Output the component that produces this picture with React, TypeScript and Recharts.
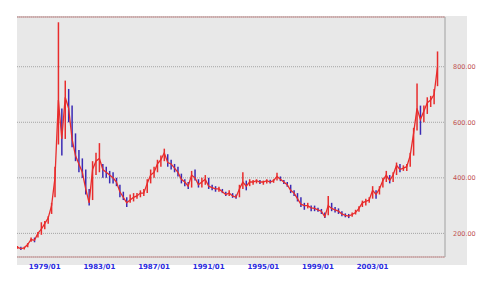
import {
  ComposedChart,
  Line,
  Bar,
  Cell,
  XAxis,
  YAxis,
  CartesianGrid,
  ReferenceLine,
} from "recharts";

const YEARS = [
  1977, 1978, 1979, 1980, 1981, 1982, 1983, 1984, 1985, 1986, 1987, 1988, 1989, 1990, 1991, 1992,
  1993, 1994, 1995, 1996, 1997, 1998, 1999, 2000, 2001, 2002, 2003, 2004, 2005, 2006, 2007,
];

// quarterly closes, four per year
const CLOSES = [
  150, 145, 148, 160, 178, 175, 200, 215, 235, 255, 300, 400, 680, 540, 690, 650,
  540, 480, 450, 420, 360, 310, 430, 460, 470, 430, 420, 410, 400, 385, 350, 330,
  310, 320, 330, 335, 345, 345, 380, 410, 420, 450, 465, 490, 455, 450, 435, 420,
  395, 385, 370, 410, 400, 375, 385, 395, 370, 365, 360, 360, 350, 340, 345, 335,
  330, 360, 385, 370, 385, 385, 390, 385, 385, 390, 385, 390, 405, 395, 385, 375,
  355, 345, 325, 305, 300, 300, 292, 290, 285, 280, 260, 300, 290, 285, 280, 270,
  265, 262, 268, 275, 290, 310, 315, 320, 355, 340, 360, 390, 410, 390, 410, 445,
  430, 435, 440, 480, 560, 650, 610, 640, 670, 680, 700, 800,
];

const HIGHS = [
  155, 152, 152, 165, 185, 185, 205, 240, 245, 262, 310, 440, 960, 650, 750, 720,
  660, 560, 500, 470, 430, 360, 460, 490, 525, 450, 440, 425, 420, 400, 375, 350,
  330, 340, 345, 345, 355, 360, 395, 430, 440, 465, 480, 505, 485, 465, 450, 440,
  415, 395, 385, 425, 430, 395, 400, 410, 400, 375, 370, 368, 360, 350, 355, 345,
  340, 375, 420, 390, 395, 392, 395, 392, 390, 395, 393, 395, 418, 405, 392, 385,
  375, 355, 345, 330, 310, 310, 300, 300, 292, 288, 275, 335, 310, 295, 290, 280,
  272, 270, 275, 285, 298, 318, 325, 330, 370, 355, 370, 400, 425, 410, 420, 455,
  450, 445, 450, 490, 580, 740, 660, 660, 690, 695, 720, 855,
];

const LOWS = [
  145, 140, 142, 150, 170, 168, 185, 195, 215, 235, 270, 330, 520, 480, 540, 600,
  510, 460, 420, 400, 340, 300, 320, 410, 420, 400, 400, 380, 380, 370, 330, 320,
  295, 310, 315, 325, 330, 335, 345, 380, 400, 420, 440, 460, 440, 430, 420, 405,
  380, 370, 360, 365, 390, 365, 365, 375, 360, 355, 350, 350, 345, 335, 335, 328,
  325, 330, 360, 355, 370, 375, 380, 378, 375, 380, 380, 382, 390, 388, 378, 368,
  345, 335, 315, 295, 285, 290, 280, 280, 278, 270, 255, 265, 280, 275, 270, 262,
  258, 255, 260, 268, 278, 295, 300, 310, 325, 325, 340, 365, 385, 380, 385, 410,
  420, 425, 425, 440, 480, 570, 555, 600, 630, 655, 665, 730,
];

const X_TICKS = [1979, 1983, 1987, 1991, 1995, 1999, 2003];
const Y_TICKS = [200, 400, 600, 800];

const UP = "#e82c2c";
const DOWN = "#3a2ab4";

const data = CLOSES.map((close, i) => ({
  t: YEARS[Math.floor(i / 4)] + (i % 4) * 0.25,
  close,
  range: [LOWS[i], HIGHS[i]],
  up: i === 0 || close >= CLOSES[i - 1],
}));

export default function App() {
  return (
    <div style={{ position: "absolute", left: 0, top: 0, width: 501, height: 291, background: "#fff" }}>
      <div
        style={{ position: "absolute", left: 17, top: 16, width: 450, height: 249, background: "#e8e8e8" }}
      />
      <div style={{ position: "absolute", left: 0, top: 0 }}>
        <ComposedChart
          width={501}
          height={291}
          data={data}
          margin={{ top: 17, right: 0, bottom: 0, left: 17 }}
        >
          <CartesianGrid vertical={false} stroke="#a4a4a4" strokeDasharray="1 1" />
          <XAxis
            dataKey="t"
            type="number"
            domain={[1976.97, 2008.3]}
            ticks={X_TICKS}
            tickFormatter={(v) => `${v}/01`}
            height={34}
            axisLine={{ stroke: "#c89090" }}
            tickLine={false}
            tick={{ fontSize: 7, fill: "#2a2ae0", fontWeight: "bold", fontFamily: "DejaVu Sans" }}
            tickMargin={1}
            allowDataOverflow
          />
          <YAxis
            orientation="right"
            type="number"
            domain={[115, 979]}
            ticks={Y_TICKS}
            tickFormatter={(v) => v.toFixed(2)}
            width={56}
            axisLine={{ stroke: "#a0a0a0" }}
            tickLine={false}
            tickMargin={2}
            tick={{ fontSize: 6.5, fill: "#c05050", fontFamily: "DejaVu Sans" }}
            allowDataOverflow
          />
          <ReferenceLine y={979} stroke="#c89090" />
          <Line
            dataKey="close"
            stroke={UP}
            strokeWidth={1.3}
            dot={false}
            isAnimationActive={false}
          />
          <Bar dataKey="range" barSize={1.5} isAnimationActive={false}>
            {data.map((d, i) => (
              <Cell key={i} fill={d.up ? UP : DOWN} />
            ))}
          </Bar>
        </ComposedChart>
      </div>
    </div>
  );
}
